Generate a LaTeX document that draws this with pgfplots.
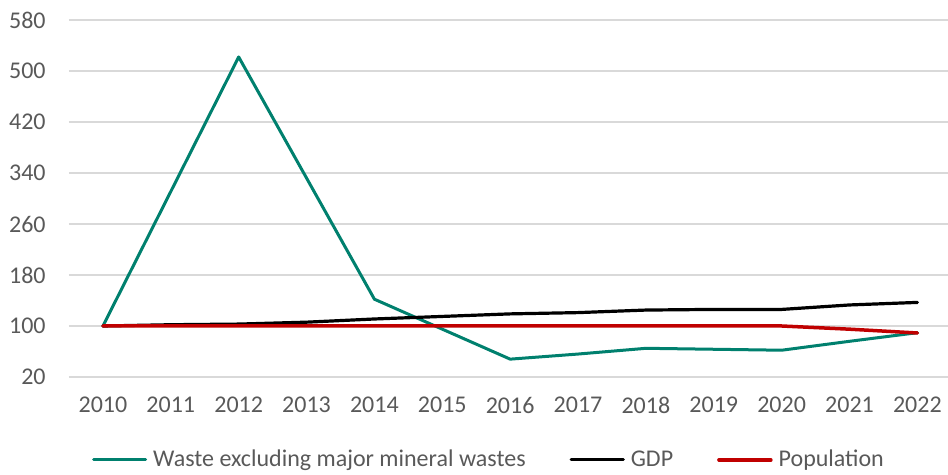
\documentclass[border=0pt]{standalone}
\usepackage{pgfplots}
\pgfplotsset{compat=1.18}
\usepackage{fontspec}
\setmainfont{Carlito}
\definecolor{txtgray}{HTML}{595959}
\definecolor{gridgray}{HTML}{D9D9D9}
\definecolor{wasteteal}{HTML}{00806E}
\definecolor{popred}{HTML}{C00000}
\begin{document}
\begin{tikzpicture}
\begin{axis}[
  name=ax,
  scale only axis,
  width=439.5pt, height=178.5pt,
  xmin=2009.5, xmax=2022.45,
  ymin=20, ymax=580,
  xtick={2010,...,2022},
  ytick={20,100,...,580},
  ymajorgrids,
  grid style={gridgray, line width=0.75pt},
  axis line style={draw=none},
  tick style={draw=none},
  font=\fontsize{12}{14}\selectfont,
  ticklabel style={text=txtgray},
  /pgf/number format/assume math mode=true,
  /pgf/number format/1000 sep={},
  yticklabel style={anchor=east, inner sep=0pt, xshift=-11.5pt},
  xticklabel style={anchor=north, inner sep=0pt, yshift=-10pt},
  legend columns=3,
  legend style={at={(0.479,-0.232)}, anchor=center, draw=none, fill=none,
    text=txtgray, font=\fontsize{12}{14}\selectfont,
    /tikz/every even column/.append style={column sep=20pt},
    /tikz/every odd column/.append style={column sep=1pt},
    inner sep=0pt},
  legend cell align=left,
  legend image code/.code={\draw[#1] (0pt,0pt) -- (26pt,0pt);},
  every axis plot/.append style={line join=round, line cap=round},
]
\addplot[wasteteal, line width=1.5pt] coordinates {
  (2010,100) (2011,311) (2012,522) (2013,332) (2014,142) (2015,95)
  (2016,48) (2017,56) (2018,65) (2019,63.5) (2020,62) (2021,76) (2022,89.5)
};
\addplot[black, line width=1.6pt] coordinates {
  (2010,100) (2011,102) (2012,103) (2013,106) (2014,111) (2015,115)
  (2016,119) (2017,121) (2018,125) (2019,126) (2020,126) (2021,133) (2022,137)
};
\addplot[popred, line width=1.75pt] coordinates {
  (2010,100) (2011,100) (2012,100) (2013,100) (2014,100) (2015,100)
  (2016,100) (2017,100) (2018,100) (2019,100) (2020,100) (2021,95) (2022,89)
};
\legend{Waste excluding major mineral wastes, GDP, Population}
\end{axis}
\pgfresetboundingbox
\path[use as bounding box] (ax.south west) ++(-34.5pt,-49pt) rectangle ++(474pt,237.5pt);
\end{tikzpicture}
\end{document}
